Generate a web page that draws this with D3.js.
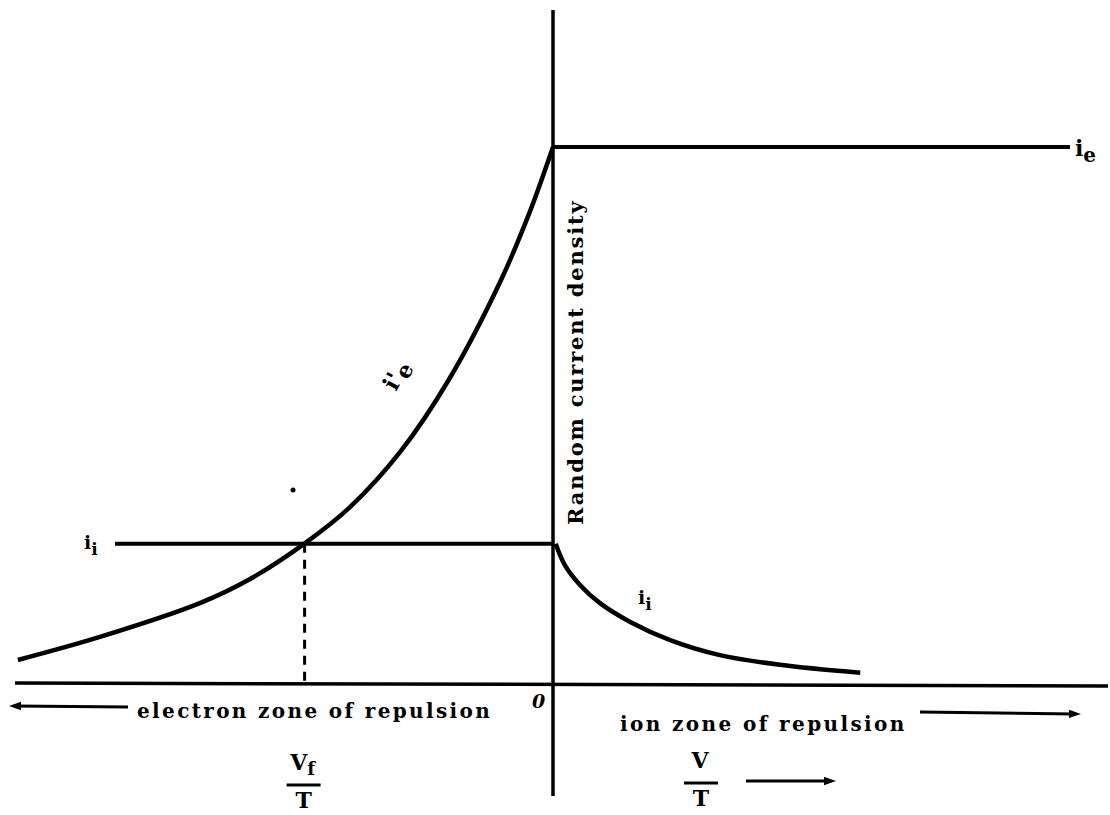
<!DOCTYPE html>
<html>
<head>
<meta charset="utf-8">
<title>Random current density</title>
<script src="https://cdn.jsdelivr.net/npm/d3@7"></script>
<style>
  body { margin: 0; background: #fff; }
  text { font-family: "DejaVu Serif", serif; font-weight: bold; fill: #000; }
</style>
</head>
<body>
<script>
// V/T values (x) and current densities (y)
var ieLevel = 10;
var iiLevel = 2.6;
var vfX = -4.6;

var ieCurveX = [-9.91, -8.39, -6.54, -5.61, -4.59, -3.76, -2.83, -1.91, -0.98, -0.43, 0];
var ieCurveY = [0.43, 0.86, 1.49, 1.94, 2.61, 3.28, 4.31, 5.69, 7.48, 8.79, 10];

var iiCurveX = [0.05, 0.22, 0.5, 0.87, 1.43, 2.17, 3.09, 4.2, 5.69];
var iiCurveY = [2.6, 2.2, 1.83, 1.49, 1.14, 0.8, 0.52, 0.34, 0.19];

var xLabels = ["V_f/T", "V/T"];

var svg = d3.select('body').append('svg')
    .attr('width', 1110)
    .attr('height', 815);

var x = d3.scaleLinear().domain([-10, 10]).range([13, 1093]);
var y = d3.scaleLinear().domain([0, 10]).range([683, 147]);

function zip(xs, ys) {
    return xs.map(function(v, i) { return [v, ys[i]]; });
}

var line = d3.line()
    .x(function(d) { return x(d[0]); })
    .y(function(d) { return y(d[1]); })
    .curve(d3.curveCatmullRom.alpha(0.5));

// axes
svg.append('line')
    .attr('x1', 15).attr('x2', 1108)
    .attr('y1', y(0)).attr('y2', y(0) + 3)
    .attr('stroke', '#000').attr('stroke-width', 3.5);
svg.append('line')
    .attr('x1', x(0)).attr('x2', x(0))
    .attr('y1', 10).attr('y2', 796)
    .attr('stroke', '#000').attr('stroke-width', 3.5);

// i_e saturation
svg.append('line')
    .attr('x1', x(0)).attr('x2', 1070)
    .attr('y1', y(ieLevel)).attr('y2', y(ieLevel))
    .attr('stroke', '#000').attr('stroke-width', 4);

// i_i level on the left
svg.append('line')
    .attr('x1', 115).attr('x2', x(0))
    .attr('y1', y(iiLevel)).attr('y2', y(iiLevel))
    .attr('stroke', '#000').attr('stroke-width', 4);

// retarded electron current
svg.append('path')
    .datum(zip(ieCurveX, ieCurveY))
    .attr('d', line)
    .attr('fill', 'none').attr('stroke', '#000').attr('stroke-width', 4.5);

// ion current in ion repulsion zone
svg.append('path')
    .datum(zip(iiCurveX, iiCurveY))
    .attr('d', line)
    .attr('fill', 'none').attr('stroke', '#000').attr('stroke-width', 4.5);

// floating potential dashed drop
svg.append('line')
    .attr('x1', x(vfX)).attr('x2', x(vfX))
    .attr('y1', y(iiLevel)).attr('y2', y(0))
    .attr('stroke', '#000').attr('stroke-width', 3)
    .attr('stroke-dasharray', '9,7');

svg.append('circle')
    .attr('cx', 293).attr('cy', 490).attr('r', 2.5).attr('fill', '#000');

// labels
function sub(t, main, s, px, ps) {
    t.append('tspan').text(main).style('font-size', px + 'px');
    t.append('tspan').text(s).attr('dy', 6).style('font-size', ps + 'px');
}
sub(svg.append('text').attr('x', 1075).attr('y', 156), 'i', 'e', 22, 20);
sub(svg.append('text').attr('x', 84).attr('y', 549), 'i', 'i', 19, 17);
sub(svg.append('text').attr('x', 638).attr('y', 604), 'i', 'i', 19, 17);

var lab = svg.append('text')
    .attr('transform', 'translate(396,392) rotate(-62)');
lab.append('tspan').text("i'").style('font-size', '23px');
lab.append('tspan').text('e').attr('dy', 5).style('font-size', '22px');

svg.append('text')
    .attr('transform', 'translate(583,525) rotate(-90)')
    .style('font-size', '21px')
    .style('letter-spacing', '1.8px')
    .text('Random current density');

svg.append('text').attr('x', 532).attr('y', 708)
    .style('font-size', '19px').style('font-style', 'italic').text('0');

svg.append('text').attr('x', 137).attr('y', 718)
    .style('font-size', '20px').style('letter-spacing', '2.36px')
    .text('electron zone of repulsion');
svg.append('text').attr('x', 620).attr('y', 731)
    .style('font-size', '20px').style('letter-spacing', '2.4px')
    .text('ion zone of repulsion');

// arrows
svg.append('defs').append('marker')
    .attr('id', 'ah').attr('viewBox', '0 0 10 10')
    .attr('refX', 5).attr('refY', 5)
    .attr('markerWidth', 4).attr('markerHeight', 4)
    .attr('orient', 'auto-start-reverse')
    .append('path').attr('d', 'M0,1.5 L10,5 L0,8.5 Z').attr('fill', '#000');

function arrow(x1, y1, x2, y2) {
    svg.append('line')
        .attr('x1', x1).attr('y1', y1).attr('x2', x2).attr('y2', y2)
        .attr('stroke', '#000').attr('stroke-width', 3)
        .attr('marker-end', 'url(#ah)');
}
arrow(128, 707, 15, 706);
arrow(920, 712, 1075, 714);
arrow(746, 781, 830, 781);

// fraction labels under the axis
function frac(cx, top, numer, s) {
    var t = svg.append('text').attr('x', cx).attr('y', top).attr('text-anchor', 'middle')
        .style('font-size', '22px');
    t.append('tspan').text(numer);
    if (s) t.append('tspan').text(s).attr('dy', 5).style('font-size', '18px');
    svg.append('line')
        .attr('x1', cx - 16).attr('x2', cx + 18)
        .attr('y1', top + 15).attr('y2', top + 15)
        .attr('stroke', '#000').attr('stroke-width', 3);
    svg.append('text').attr('x', cx + 1).attr('y', top + 38).attr('text-anchor', 'middle')
        .style('font-size', '22px').text('T');
}
var fx = [x(vfX) - 2, 700];
var ftop = [770, 768];
xLabels.forEach(function(l, i) {
    var p = l.split('_');
    var n = p[0].split('/')[0];
    var s = p.length > 1 ? p[1].split('/')[0] : null;
    frac(fx[i], ftop[i], n, s);
});
</script>
</body>
</html>
